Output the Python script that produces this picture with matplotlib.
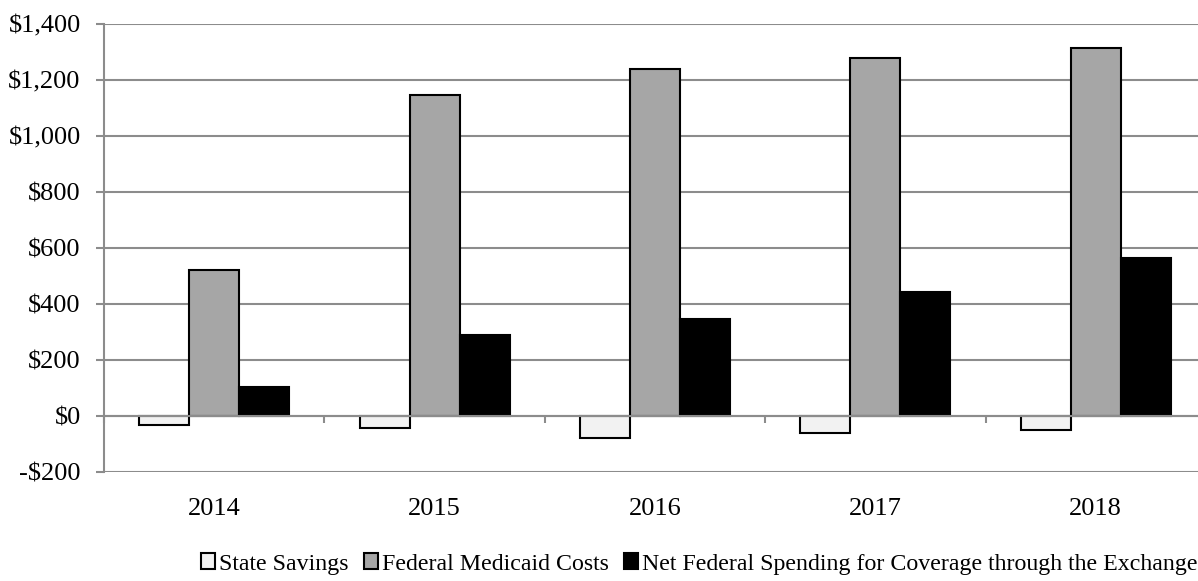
import matplotlib.pyplot as plt
import matplotlib.transforms as mtransforms
import numpy as np

years = ['2014', '2015', '2016', '2017', '2018']
state_savings = [-33, -44, -80, -62, -50]
federal_medicaid = [522, 1148, 1241, 1277, 1315]
net_federal = [105, 289, 345, 443, 566]

series_names = ['State Savings', 'Federal Medicaid Costs',
                'Net Federal Spending for Coverage through the Exchange']
series_colors = ['#f2f2f2', '#a6a6a6', '#000000']

plt.rcParams['font.family'] = ['Liberation Serif', 'DejaVu Serif']

fig = plt.figure(figsize=(11.98, 5.81), dpi=100)
# plot area runs a little past the right edge of the picture, as in the source
ax = fig.add_axes([104 / 1198, 1 - 472 / 581, 1102 / 1198, 448 / 581])

x = np.arange(len(years))
w = 0.227
grid_col = '#8c8c8c'

for i, (vals, name, col) in enumerate(zip([state_savings, federal_medicaid, net_federal],
                                          series_names, series_colors)):
    ax.bar(x + (i - 1) * w, vals, width=w, color=col, edgecolor='black',
           linewidth=1.5, label=name, zorder=3)

ax.set_xlim(-0.5, len(years) - 0.5)
ax.set_ylim(-200, 1400)
yt = np.arange(-200, 1401, 200)
ax.set_yticks(yt)
ax.set_yticklabels(['-$' + format(-v, ',') if v < 0 else '$' + format(v, ',') for v in yt])
ax.yaxis.grid(True, color=grid_col, linewidth=1.5, zorder=0)
ax.tick_params(axis='y', length=5.8, width=1.5, color=grid_col, labelsize=19, pad=11)

for s in ['top', 'right']:
    ax.spines[s].set_visible(False)
ax.spines['left'].set_color(grid_col)
ax.spines['left'].set_linewidth(1.5)
ax.spines['bottom'].set_position(('data', 0))
ax.spines['bottom'].set_color(grid_col)
ax.spines['bottom'].set_linewidth(1.5)
ax.spines['bottom'].set_zorder(4)

ax.set_xticks(np.arange(len(years) + 1) - 0.5)
ax.set_xticklabels([])
ax.tick_params(axis='x', length=5, width=1.5, color=grid_col)

trans = mtransforms.blended_transform_factory(ax.transData, ax.transAxes)
for xi, yr in zip(x, years):
    ax.text(xi, -0.083, yr, transform=trans, ha='center', va='center', fontsize=19)

ax.legend(loc='center', bbox_to_anchor=(699 / 1198, 1 - 564 / 581), bbox_transform=fig.transFigure,
          ncol=3, frameon=False, fontsize=17.2, handlelength=0.6, handleheight=0.6,
          handletextpad=0.15, columnspacing=0.65, borderpad=0)

fig.savefig('out.png', dpi=100)
